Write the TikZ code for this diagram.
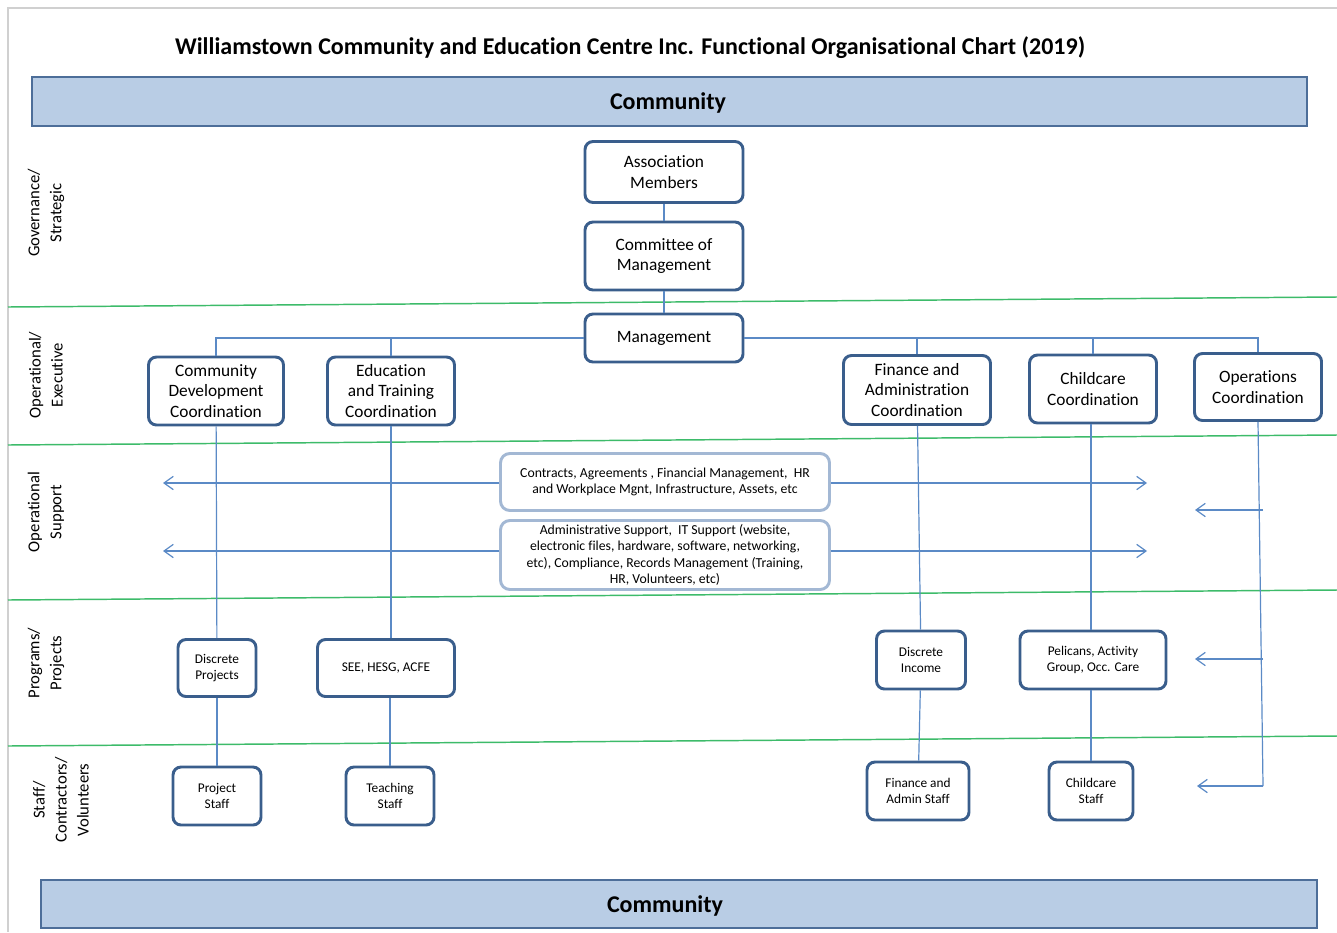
\documentclass[tikz,border=0pt]{standalone}
\usepackage{fontspec}
\setmainfont{Carlito}[Ligatures=NoCommon]
\usetikzlibrary{arrows.meta}
\definecolor{bandfill}{HTML}{B9CDE5}
\definecolor{bandline}{HTML}{4D6E99}
\definecolor{boxline}{HTML}{3A5E8C}
\definecolor{softline}{HTML}{A3B8D4}
\definecolor{wire}{HTML}{5B8AC6}
\definecolor{layerline}{HTML}{3DBB6A}
\definecolor{framegray}{HTML}{D0D0D0}
\tikzset{
  wh/.style 2 args={minimum width=#1*0.75pt, minimum height=#2*0.75pt},
  orgbox/.style={draw=boxline, line width=2.2pt, rounded corners=6pt, fill=white,
    align=center, inner sep=1pt, font=\fontsize{13}{15.5}\selectfont},
  smallbox/.style={orgbox, font=\fontsize{10}{12}\selectfont},
  supbox/.style={draw=softline, line width=2.2pt, rounded corners=7pt, fill=white,
    align=center, inner sep=1pt, font=\fontsize{10.3}{12.2}\selectfont},
  band/.style={draw=bandline, line width=0.8pt, fill=bandfill},
  bandtext/.style={font=\bfseries\fontsize{18}{21}\selectfont},
  layer/.style={draw=layerline, line width=1.1pt},
  lanelabel/.style={rotate=90, align=center, font=\fontsize{12.5}{16.5}\selectfont},
  link/.style={draw=wire, line width=0.9pt},
  feed/.style={link, -{Straight Barb[length=7pt,width=10pt]}},
}
\begin{document}
\begin{tikzpicture}[x=0.75pt,y=-0.75pt]
    \useasboundingbox (0,0) rectangle (1337,932);
    %% frame
    \draw[framegray, line width=0.8pt] (1337,8) -- (8,8) -- (8,932);
    %% title and community bands
    \node[font=\bfseries\fontsize{18}{21}\selectfont] (title) at (630,48)
      {Williamstown Community and Education Centre Inc. Functional Organisational Chart (2019)};
    \node[band, wh={1275}{49}] (topband) at (669.5,101.5) {};
    \node[bandtext] (toptext) at (668,103) {Community};
    \node[band, wh={1276}{48}] (botband) at (679,904) {};
    \node[bandtext] (bottext) at (665,906) {Community};
    %% layers
    \draw[layer] (8,307) -- (1337,297);
    \draw[layer] (8,445) -- (1337,435);
    \draw[layer] (8,600) -- (1337,590);
    \draw[layer] (8,746) -- (1337,736);
    \node[lanelabel] (govlab) at (46,213) {Governance/\\Strategic};
    \node[lanelabel] (execlab) at (46,375) {Operational/\\Executive};
    \node[lanelabel] (suplab) at (46,512) {Operational\\Support};
    \node[lanelabel] (proglab) at (46,663) {Programs/\\Projects};
    \node[lanelabel] (stafflab) at (61,800) {Staff/\\Contractors/\\Volunteers};
    %% governance
    \node[orgbox, wh={158}{61}] (assoc) at (664,172) {Association\\Members};
    \node[orgbox, wh={158}{68}] (committee) at (664,256) {Committee of\\Management};
    %% executive
    \node[orgbox, wh={158}{48}] (mgmt) at (664,338) {Management};
    \node[orgbox, wh={135}{68}] (commdev) at (216,391) {Community\\Development\\Coordination};
    \node[orgbox, wh={127}{68}] (edutrain) at (391,391) {Education\\and Training\\Coordination};
    \node[orgbox, wh={147}{69}] (finadmin) at (917,390) {Finance and\\Administration\\Coordination};
    \node[orgbox, wh={127}{68}] (childcoord) at (1093,389) {Childcare\\Coordination};
    \node[orgbox, wh={127}{67}] (opscoord) at (1258,387) {Operations\\Coordination};
    %% support
    \node[supbox, wh={329}{57}] (contracts) at (665,482)
      {Contracts, Agreements , Financial Management,\ \ HR\\and Workplace Mgnt, Infrastructure, Assets, etc};
    \node[supbox, wh={329}{69}] (adminsup) at (665,555)
      {Administrative Support,\ \ IT Support (website,\\electronic files, hardware, software, networking,\\etc), Compliance, Records Management (Training,\\HR, Volunteers, etc)};
    %% programs
    \node[smallbox, wh={78}{57}] (discproj) at (217,668) {Discrete\\Projects};
    \node[smallbox, wh={137}{57}] (seeacfe) at (386,668) {SEE, HESG, ACFE};
    \node[smallbox, wh={89}{58}] (discinc) at (921,660) {Discrete\\Income};
    \node[smallbox, wh={146}{58}] (pelicans) at (1093,660) {Pelicans, Activity\\Group, Occ. Care};
    %% staff
    \node[smallbox, wh={88}{58}] (projstaff) at (217,796) {Project\\Staff};
    \node[smallbox, wh={88}{58}] (teachstaff) at (390,796) {Teaching\\Staff};
    \node[smallbox, wh={102}{58}] (finstaff) at (918,791) {Finance and\\Admin Staff};
    \node[smallbox, wh={84}{58}] (childstaff) at (1091,791) {Childcare\\Staff};
    %% reporting lines
    \draw[link] (assoc) -- (committee);
    \draw[link] (committee) -- (mgmt);
    \draw[link] (commdev.north) |- (mgmt.west);
    \draw[link] (opscoord.north) |- (mgmt.east);
    \draw[link] (edutrain.north) -- (edutrain.north |- mgmt.west);
    \draw[link] (finadmin.north) -- (finadmin.north |- mgmt.east);
    \draw[link] (childcoord.north) -- (childcoord.north |- mgmt.east);
    \draw[link] (commdev) -- (discproj);
    \draw[link] (edutrain) -- (seeacfe.north -| edutrain);
    \draw[link] (finadmin) -- (discinc);
    \draw[link] (childcoord.south -| childstaff) -- (pelicans.north -| childstaff);
    \draw[link] (discproj) -- (projstaff);
    \draw[link] (seeacfe.south -| teachstaff) -- (teachstaff);
    \draw[link] (discinc) -- (finstaff);
    \draw[link] (pelicans.south -| childstaff) -- (childstaff);
    %% support arrows
    \coordinate (supleft) at (163,483);
    \coordinate (supright) at (1147,483);
    \draw[feed] (contracts.west |- supleft) -- (supleft);
    \draw[feed] (contracts.east |- supright) -- (supright);
    \draw[feed] (adminsup.west |- 0,551) -- (supleft |- 0,551);
    \draw[feed] (adminsup.east |- 0,551) -- (supright |- 0,551);
    %% operations feeds
    \coordinate (opsfoot) at (1263,786);
    \coordinate (tipsup) at (1195,510);
    \coordinate (tipprog) at (1195,659);
    \coordinate (tipstaff) at (1197,786);
    \draw[link] (opscoord.south) -- (opsfoot);
    \draw[feed] (opsfoot |- tipsup) -- (tipsup);
    \draw[feed] (opsfoot |- tipprog) -- (tipprog);
    \draw[feed] (opsfoot) -- (tipstaff);
\end{tikzpicture}
\end{document}
